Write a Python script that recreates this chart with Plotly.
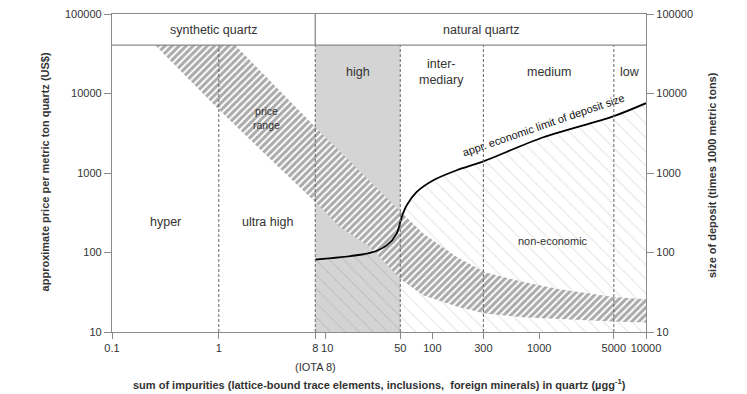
import numpy as np
import plotly.graph_objects as go

# ---------------- data ----------------
x_ticks = [0.1, 1, 8, 10, 50, 100, 300, 1000, 5000, 10000]
x_tick_text = ["0.1", "1", "8", "\u00a010", "50", "100", "300", "1000", "5000", "10000"]
y_ticks = [10, 100, 1000, 10000, 100000]
y_tick_text = ["10", "100", "1000", "10000", "100000"]

class_bounds = [0.1, 1, 8, 50, 300, 5000, 10000]
class_names = ["hyper", "ultra high", "high", "inter-<br>mediary", "medium", "low"]
header_bounds = [0.1, 8, 10000]
header_names = ["synthetic quartz", "natural quartz"]
header_bottom = 40700
y_min, y_max = 10, 100000
high_lo, high_hi = 8, 50

band_upper_x = [1.42, 8.26, 50.8, 82, 169, 311, 710, 1460, 4940, 10000]
band_upper_y = [40700, 3630, 324, 173, 87.7, 56.4, 42.5, 35.1, 27.5, 25.8]
band_lower_x = [0.253, 1.01, 8.26, 13.6, 26.1, 50.8, 82, 169, 311, 710, 4940, 10000]
band_lower_y = [40700, 6180, 413, 209, 117, 45.9, 28.9, 21.0, 17.1, 15.3, 13.6, 13.2]

limit_x = [8, 26, 37.3, 46.3, 51.6, 57.5, 71.3, 102, 169, 304, 1016, 5000, 10000]
limit_y = [81.5, 98.6, 123, 173, 280, 393, 578, 811, 1084, 1410, 2716, 5190, 7550]

# ---------------- style ----------------
FONT = "Liberation Sans, Arial, sans-serif"
TXT = "#333333"
AX = "#8a8a8a"
lg = np.log10

fig = go.Figure()

# gray "high" purity region
fig.add_trace(go.Scatter(
    x=[high_lo, high_hi, high_hi, high_lo], y=[y_min, y_min, header_bottom, header_bottom],
    fill="toself", fillcolor="#d4d4d4", line=dict(width=0), mode="lines",
    hoverinfo="skip", showlegend=False))

# non-economic hatched area below economic limit
fig.add_trace(go.Scatter(
    x=[limit_x[0], limit_x[-1]], y=[y_min, y_min], mode="lines",
    line=dict(width=0), hoverinfo="skip", showlegend=False))
fig.add_trace(go.Scatter(
    x=limit_x, y=limit_y, mode="lines", line=dict(width=0, shape="spline", smoothing=0.8),
    fill="tonexty", fillcolor="rgba(0,0,0,0)",
    fillpattern=dict(shape="\\", size=10, solidity=0.1,
                     fgcolor="rgba(0,0,0,0.2)", bgcolor="rgba(0,0,0,0)"),
    hoverinfo="skip", showlegend=False))

# price range band
band_x = band_upper_x + band_lower_x[::-1]
band_y = band_upper_y + band_lower_y[::-1]
fig.add_trace(go.Scatter(
    x=band_x, y=band_y, mode="lines", line=dict(width=0),
    fill="toself", fillcolor="white",
    fillpattern=dict(shape="/", size=5, solidity=0.6, fgcolor="#555555", bgcolor="white"),
    hoverinfo="skip", showlegend=False))

# economic limit curve
fig.add_trace(go.Scatter(
    x=limit_x, y=limit_y, mode="lines",
    line=dict(color="black", width=1.8, shape="spline", smoothing=0.8),
    hoverinfo="skip", showlegend=False))

# dashed class boundaries
for b in class_bounds[1:-1]:
    fig.add_trace(go.Scatter(
        x=[b, b], y=[y_min, header_bottom], mode="lines",
        line=dict(color="#666666", width=1, dash="3px,2px"),
        hoverinfo="skip", showlegend=False))

# header lines
fig.add_trace(go.Scatter(
    x=[header_bounds[0], header_bounds[-1]], y=[header_bottom, header_bottom], mode="lines",
    line=dict(color=AX, width=1.3), hoverinfo="skip", showlegend=False))
fig.add_trace(go.Scatter(
    x=[header_bounds[1], header_bounds[1]], y=[header_bottom, y_max], mode="lines",
    line=dict(color=AX, width=1.3), hoverinfo="skip", showlegend=False))

# invisible trace for right axis
fig.add_trace(go.Scatter(x=[1], y=[100], yaxis="y2", mode="markers",
                         marker=dict(opacity=0), hoverinfo="skip", showlegend=False))

ann = []
# header labels
for i, name in enumerate(header_names):
    xm = (lg(header_bounds[i]) + lg(header_bounds[i + 1])) / 2
    ym = (lg(header_bottom) + lg(y_max)) / 2
    ann.append(dict(x=xm, y=ym, xref="x", yref="y", text=name, showarrow=False,
                    font=dict(size=12.5, color=TXT)))
# class labels
for i, name in enumerate(class_names):
    xm = (lg(class_bounds[i]) + lg(class_bounds[i + 1])) / 2
    ym = 2.38 if i < 2 else 4.27
    ann.append(dict(x=xm, y=ym, xref="x", yref="y", text=name, showarrow=False,
                    font=dict(size=12.5, color=TXT)))
ann.append(dict(x=0.442, y=3.696, xref="x", yref="y", text="price<br>range", showarrow=False,
                font=dict(size=10.5, color=TXT)))
ann.append(dict(x=3.132, y=2.141, xref="x", yref="y", text="non-economic", showarrow=False,
                font=dict(size=11, color=TXT)))
ann.append(dict(x=3.036, y=3.61, xref="x", yref="y", text="appr. economic limit of deposit size",
                showarrow=False, textangle=-19, font=dict(size=11, color="#111")))
ann.append(dict(x=lg(8), y=-0.109, xref="x", yref="paper", text="(IOTA 8)", showarrow=False,
                font=dict(size=11, color=TXT)))
# axis titles
ann.append(dict(x=0.5, y=-0.1635, xref="paper", yref="paper",
                text="<b>sum of impurities (lattice-bound trace elements, inclusions,  foreign minerals) in quartz (µgg<sup>-1</sup>)</b>",
                showarrow=False, font=dict(size=11, color=TXT)))
ann.append(dict(x=-0.1255, y=0.505, xref="paper", yref="paper",
                text="<b>approximate price per metric ton quartz (US$)</b>", textangle=-90,
                showarrow=False, font=dict(size=11, color=TXT)))
ann.append(dict(x=1.1225, y=0.495, xref="paper", yref="paper",
                text="<b>size of deposit (times 1000 metric tons)</b>", textangle=-90,
                showarrow=False, font=dict(size=11, color=TXT)))
for a in ann:
    a["xanchor"] = "center"
    a["yanchor"] = "middle"

fig.update_layout(
    width=747, height=394,
    margin=dict(l=112, r=101, t=14, b=62, autoexpand=False),
    paper_bgcolor="white", plot_bgcolor="white",
    font=dict(family=FONT, color=TXT),
    showlegend=False,
    annotations=ann,
    xaxis=dict(type="log", range=[-1, 4], tickvals=x_ticks, ticktext=x_tick_text,
               tickangle=0, automargin=False,
               showgrid=False, zeroline=False, showline=True, linecolor=AX, linewidth=1.3,
               mirror=True, ticks="outside", ticklen=6, tickcolor=AX,
               tickfont=dict(size=11, color=TXT)),
    yaxis=dict(type="log", range=[1, 5], tickvals=y_ticks, ticktext=y_tick_text,
               automargin=False,
               showgrid=False, zeroline=False, showline=True, linecolor=AX, linewidth=1.3,
               ticks="outside", ticklen=7, tickcolor=AX,
               tickfont=dict(size=11, color=TXT)),
    yaxis2=dict(type="log", range=[1, 5], tickvals=y_ticks, ticktext=y_tick_text,
                overlaying="y", side="right", automargin=False,
                showgrid=False, zeroline=False, showline=True, linecolor=AX, linewidth=1.3,
                ticks="outside", ticklen=7, tickcolor=AX,
                tickfont=dict(size=11, color=TXT)),
)

fig.write_html("out.html", config={"displayModeBar": False},
               post_script="document.body.style.margin='0';document.body.style.overflow='hidden';")
